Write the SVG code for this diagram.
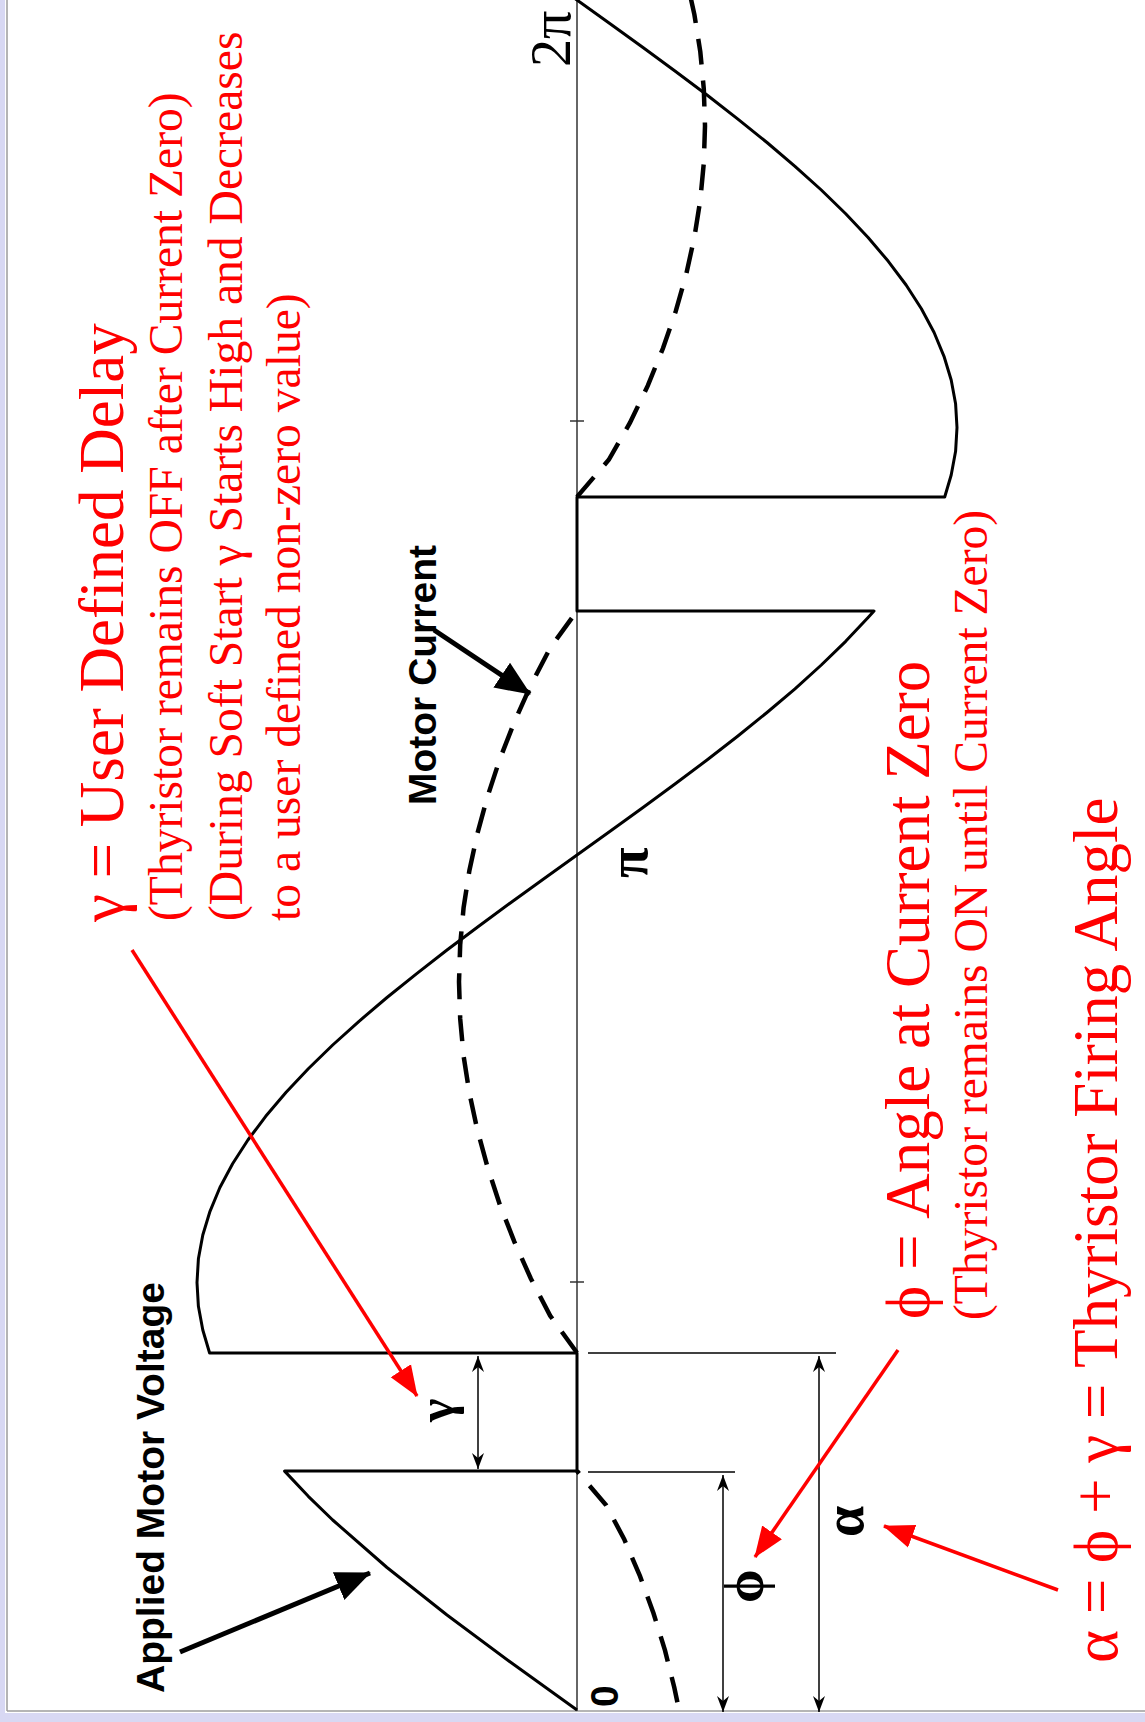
<svg xmlns="http://www.w3.org/2000/svg" width="1145" height="1722" viewBox="0 0 1145 1722">
<defs>
<style>
.ax{stroke:#333;stroke-width:1.5;fill:none}
.volt{stroke:#000;stroke-width:3;fill:none;stroke-linejoin:round}
.cur{stroke:#000;stroke-width:4.5;fill:none;stroke-dasharray:26 16}
.dim{stroke:#000;stroke-width:1.5;fill:none}
.red{fill:#ff0000;font-family:"Liberation Serif","Times New Roman",serif}
.big{font-size:63px}
.sm{font-size:47.6px}
.blk{fill:#000;font-family:"Liberation Sans",Arial,sans-serif;font-weight:bold;font-size:39px}
.gk{fill:#000;font-family:"Liberation Serif","Times New Roman",serif}
.rarrow{stroke:#ff0000;stroke-width:3.5;fill:none;marker-end:url(#rhead)}
.barrow{stroke:#000;stroke-width:5;fill:none;marker-end:url(#bhead)}
</style>
<marker id="dh" markerUnits="userSpaceOnUse" markerWidth="18" markerHeight="14" refX="16" refY="7" orient="auto-start-reverse" viewBox="0 0 18 14">
<path d="M16,7 L0,1 L5,7 L0,13 z" fill="#000"/>
</marker>
<marker id="rhead" markerUnits="userSpaceOnUse" markerWidth="32" markerHeight="26" refX="30" refY="13" orient="auto" viewBox="0 0 32 26">
<path d="M31,13 L0,1 L0,25 z" fill="#ff0000"/>
</marker>
<marker id="bhead" markerUnits="userSpaceOnUse" markerWidth="36" markerHeight="32" refX="34" refY="16" orient="auto" viewBox="0 0 36 32">
<path d="M35,16 L0,1 L0,31 z" fill="#000"/>
</marker>
</defs>
<rect width="1145" height="1722" fill="#fff"/>
<g id="frame">
<rect x="0" y="0" width="5" height="1722" fill="#d8d8f3"/>
<rect x="0" y="1713" width="1145" height="9" fill="#d8d8f3"/>
<line x1="7" y1="0" x2="7" y2="1711" stroke="#9c9c9c" stroke-width="1.5"/>
<line x1="7" y1="1711" x2="1145" y2="1711" stroke="#9c9c9c" stroke-width="1.5"/>
</g>
<g id="axis">
<line class="ax" x1="577" y1="0" x2="577" y2="1711"/>
<line class="ax" x1="570" y1="1282" x2="584" y2="1282"/>
<line class="ax" x1="570" y1="421" x2="584" y2="421"/>
</g>
<g id="voltage">
<path class="volt" d="M577,1710 L511,1662.5 L447,1615 L387,1567.5 L332.7,1520 L308.3,1496.3 L284.6,1471.1 L577,1471.1 L577,1353 L209.6,1353 L202.8,1330 L198.4,1306.3 L197,1282.5 L198.4,1258.8 L202.8,1235 L210,1211.3 L219.9,1187.5 L232.6,1163.8 L247.9,1140 L265.7,1116.3 L285.9,1092.5 L308.3,1068.8 L332.7,1045 L359,1021.3 L387,997.5 L416.4,973.8 L447,950 L478.7,926.3 L511,902.5 L543.9,878.8 L577,855 L610.1,831.3 L643,807.5 L675.3,783.8 L707,760 L737.6,736.3 L767,712.5 L795,688.8 L821.3,665 L845.7,641.3 L868.1,617.5 L874,611 L577,611 L577,497 L944.7,497 L951.2,475 L955.6,451.3 L957,427.5 L955.6,403.8 L951.2,380 L944,356.3 L934.1,332.5 L921.4,308.8 L906.1,285 L888.3,261.3 L868.1,237.5 L845.7,213.8 L821.3,190 L795,166.3 L767,142.5 L737.6,118.8 L707,95 L675.3,71.3 L643,47.5 L610.1,23.8 L577,0 L543.9,-23.8"/>
</g>
<g id="current">
<path class="cur" d="M677.4,1702.3 L674.3,1687.5 L665,1650.4 L653.5,1613.3 L640,1576.2 L624.2,1539.1 L606,1505 L577,1471"/>
<path class="cur" d="M577,1352.8 L550.2,1315.7 L530.9,1278.7 L514.3,1241.6 L499.8,1204.6 L487.6,1167.3 L477.4,1130.2 L469.4,1093.1 L463.6,1056 L460.2,1018.9 L459,981.8 L460.2,944.7 L463.6,907.6 L469.4,870.5 L477.4,833.4 L487.6,796.3 L499.8,759.2 L514.3,722.1 L530.9,685 L550.2,647.9 L577,610.9"/>
<path class="cur" d="M577,496.9 L608.8,459.8 L630,422.7 L647.8,385.6 L662.9,348.5 L675.7,311.4 L686.2,274.3 L694.4,237.2 L700.3,200.1 L703.8,163 L705,125.9 L703.8,88.8 L700.3,51.7 L694.4,14.6 L686.2,-22.5"/>
</g>
<g id="dimensions">
<line class="dim" x1="588" y1="1353" x2="836" y2="1353"/>
<line class="dim" x1="588" y1="1472" x2="735" y2="1472"/>
<line class="dim" x1="478" y1="1356" x2="478" y2="1469" marker-start="url(#dh)" marker-end="url(#dh)"/>
<line class="dim" x1="723" y1="1475" x2="723" y2="1712" marker-start="url(#dh)" marker-end="url(#dh)"/>
<line class="dim" x1="819" y1="1356" x2="819" y2="1712" marker-start="url(#dh)" marker-end="url(#dh)"/>
</g>
<g id="axis-labels">
<text class="blk" transform="translate(618,1707) rotate(-90)" font-size="28">0</text>
<text class="gk" transform="translate(647,878) rotate(-90)" font-size="56" font-weight="bold">π</text>
<text class="gk" transform="translate(570,67) rotate(-90)" font-size="56">2π</text>
</g>
<g id="dim-labels">
<text class="gk" transform="translate(453,1422) rotate(-90)" font-size="50" font-weight="bold">γ</text>
<text class="gk" transform="translate(763,1603) rotate(-90)" font-size="54" font-weight="bold">ϕ</text>
<text class="gk" transform="translate(863,1537) rotate(-90)" font-size="56" font-weight="bold">α</text>
</g>
<g id="node-applied-voltage">
<text class="blk" transform="translate(164,1693) rotate(-90)">Applied Motor Voltage</text>
</g>
<g id="node-motor-current">
<text class="blk" transform="translate(436,805) rotate(-90)">Motor Current</text>
</g>
<g id="node-gamma">
<text class="red big" transform="translate(123,922) rotate(-90)">γ = User Defined Delay</text>
<text class="red sm" transform="translate(182,921) rotate(-90)">(Thyristor remains OFF after Current Zero)</text>
<text class="red sm" transform="translate(242,921) rotate(-90)">(During Soft Start γ Starts High and Decreases</text>
<text class="red sm" transform="translate(300,921) rotate(-90)">to a user defined non-zero value)</text>
</g>
<g id="node-phi">
<text class="red big" transform="translate(929,1319) rotate(-90)">ϕ = Angle at Current Zero</text>
<text class="red sm" transform="translate(987,1320) rotate(-90)">(Thyristor remains ON until Current Zero)</text>
</g>
<g id="node-alpha">
<text class="red big" transform="translate(1117,1663) rotate(-90)">α = ϕ + γ = Thyristor Firing Angle</text>
</g>
<g id="connectors">
<line class="rarrow" x1="132" y1="950" x2="417" y2="1396"/>
<line class="rarrow" x1="898" y1="1350" x2="755" y2="1557"/>
<line class="rarrow" x1="1058" y1="1590" x2="884" y2="1526"/>
<line class="barrow" x1="180" y1="1652" x2="370" y2="1573"/>
<line class="barrow" x1="434" y1="630" x2="530" y2="694"/>
</g>
</svg>
